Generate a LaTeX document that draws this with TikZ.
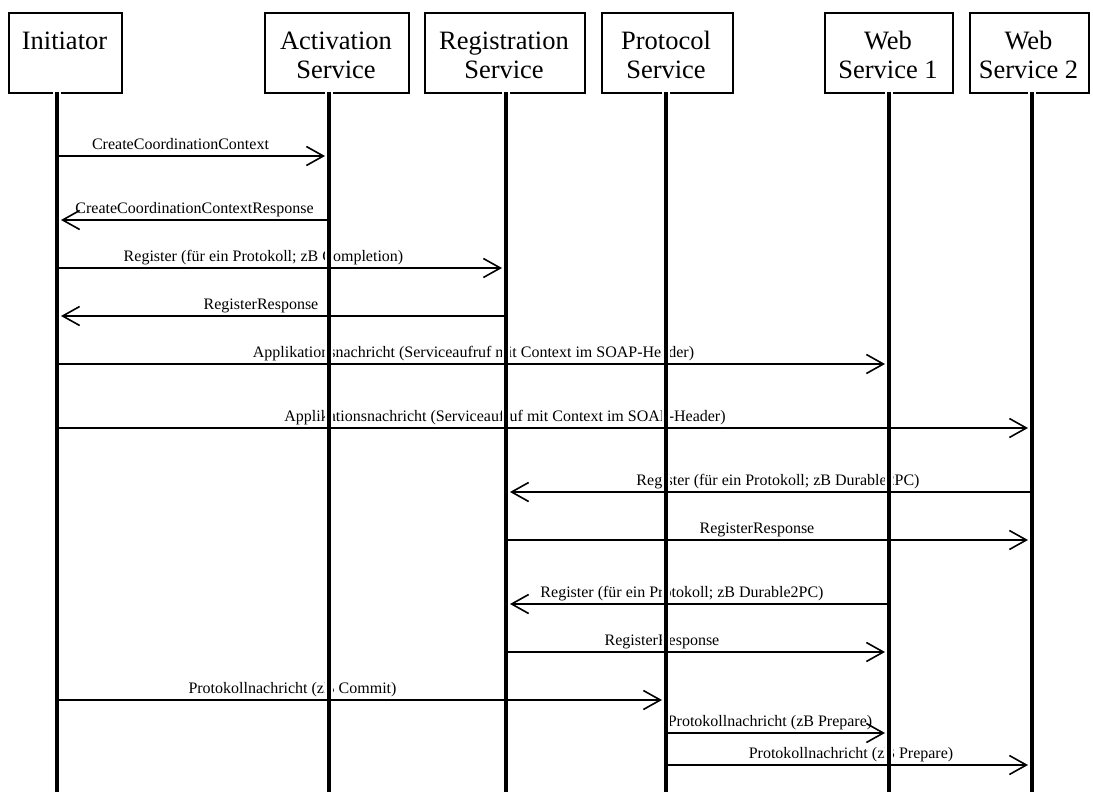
\documentclass[tikz,border=0pt]{standalone}
\usepackage{fontspec}
\setmainfont{Liberation Serif}
\usetikzlibrary{arrows.meta}
\begin{document}
\begin{tikzpicture}[x=1pt,y=-1pt,
  actorbox/.style={draw, line width=1.8pt, fill=white, inner sep=0pt, anchor=north west},
  actortext/.style={anchor=base, inner sep=0pt, font=\fontsize{26.5}{28}\selectfont},
  msglabel/.style={anchor=base, inner sep=0pt, font=\fontsize{16}{18}\selectfont},
  halo/.style={line width=8pt, white},
  lifeline/.style={line width=4pt, black},
  msg/.style={line width=1.6pt, -{Straight Barb[length=17pt,width=19pt]}, shorten >=4pt}]

% canvas
\fill[white] (0,0) rectangle (1093,792);
\useasboundingbox (0,0) rectangle (1093,792);

% participant boxes
\node[actorbox, minimum width=113pt, minimum height=80pt] (init) at (8,12) {};
\node[actorbox, minimum width=144pt, minimum height=80pt] (act)  at (264,12) {};
\node[actorbox, minimum width=160pt, minimum height=80pt] (reg)  at (424,12) {};
\node[actorbox, minimum width=131pt, minimum height=80pt] (prot) at (601,12) {};
\node[actorbox, minimum width=128pt, minimum height=80pt] (ws1)  at (824,12) {};
\node[actorbox, minimum width=119pt, minimum height=80pt] (ws2)  at (969,12) {};

\node[actortext] (tInit)  at (64.5,50) {Initiator};
\node[actortext] (tAct1)  at (336,50) {Activation};
\node[actortext] (tAct2)  at (336,78) {Service};
\node[actortext] (tReg1)  at (504,50) {Registration};
\node[actortext] (tReg2)  at (504,78) {Service};
\node[actortext] (tProt1) at (666,50) {Protocol};
\node[actortext] (tProt2) at (666,78) {Service};
\node[actortext] (tWs11)  at (888,50) {Web};
\node[actortext] (tWs12)  at (888,78) {Service 1};
\node[actortext] (tWs21)  at (1028.5,50) {Web};
\node[actortext] (tWs22)  at (1028.5,78) {Service 2};

% lifeline tops and bottoms
\coordinate (lI) at (57,92);   \coordinate (eI) at (57,800);
\coordinate (lA) at (329,92);  \coordinate (eA) at (329,800);
\coordinate (lR) at (506,92);  \coordinate (eR) at (506,800);
\coordinate (lP) at (666,92);  \coordinate (eP) at (666,800);
\coordinate (lW) at (889,92);  \coordinate (eW) at (889,800);
\coordinate (lV) at (1032,92); \coordinate (eV) at (1032,800);

% message rows
\coordinate (m1) at (0,156);
\coordinate (m2) at (0,220);
\coordinate (m3) at (0,268);
\coordinate (m4) at (0,316);
\coordinate (m5) at (0,364);
\coordinate (m6) at (0,428);
\coordinate (m7) at (0,492);
\coordinate (m8) at (0,540);
\coordinate (m9) at (0,604);
\coordinate (m10) at (0,652);
\coordinate (m11) at (0,700);
\coordinate (m12) at (0,733);
\coordinate (m13) at (0,765);

% message labels
\node[msglabel] (t1)  at (180.5,149) {CreateCoordinationContext};
\node[msglabel] (t2)  at (194.5,213) {CreateCoordinationContextResponse};
\node[msglabel] (t3)  at (263.5,261) {Register (für ein Protokoll; zB Completion)};
\node[msglabel] (t4)  at (261,309) {RegisterResponse};
\node[msglabel] (t5)  at (473.5,357) {Applikationsnachricht (Serviceaufruf mit Context im SOAP-Header)};
\node[msglabel] (t6)  at (505,421) {Applikationsnachricht (Serviceaufruf mit Context im SOAP-Header)};
\node[msglabel] (t7)  at (778,485) {Register (für ein Protokoll; zB Durable2PC)};
\node[msglabel] (t8)  at (757,533) {RegisterResponse};
\node[msglabel] (t9)  at (682,597) {Register (für ein Protokoll; zB Durable2PC)};
\node[msglabel] (t10) at (662,645) {RegisterResponse};
\node[msglabel] (t11) at (292.5,693) {Protokollnachricht (zB Commit)};
\node[msglabel] (t12) at (770,726) {Protokollnachricht (zB Prepare)};
\node[msglabel] (t13) at (851,758) {Protokollnachricht (zB Prepare)};

% lifelines with a white margin that cuts through the labels
\foreach \t/\b in {lI/eI,lA/eA,lR/eR,lP/eP,lW/eW,lV/eV}{
  \draw[halo] ([yshift=2pt]\t) -- (\b);
  \draw[lifeline] (\t) -- (\b);
}

% messages
\draw[msg] (lI |- m1) -- (lA |- m1);
\draw[msg] (lA |- m2) -- (lI |- m2);
\draw[msg] (lI |- m3) -- (lR |- m3);
\draw[msg] (lR |- m4) -- (lI |- m4);
\draw[msg] (lI |- m5) -- (lW |- m5);
\draw[msg] (lI |- m6) -- (lV |- m6);
\draw[msg] (lV |- m7) -- (lR |- m7);
\draw[msg] (lR |- m8) -- (lV |- m8);
\draw[msg] (lW |- m9) -- (lR |- m9);
\draw[msg] (lR |- m10) -- (lW |- m10);
\draw[msg] (lI |- m11) -- (lP |- m11);
\draw[msg] (lP |- m12) -- (lW |- m12);
\draw[msg] (lP |- m13) -- (lV |- m13);
\end{tikzpicture}
\end{document}
